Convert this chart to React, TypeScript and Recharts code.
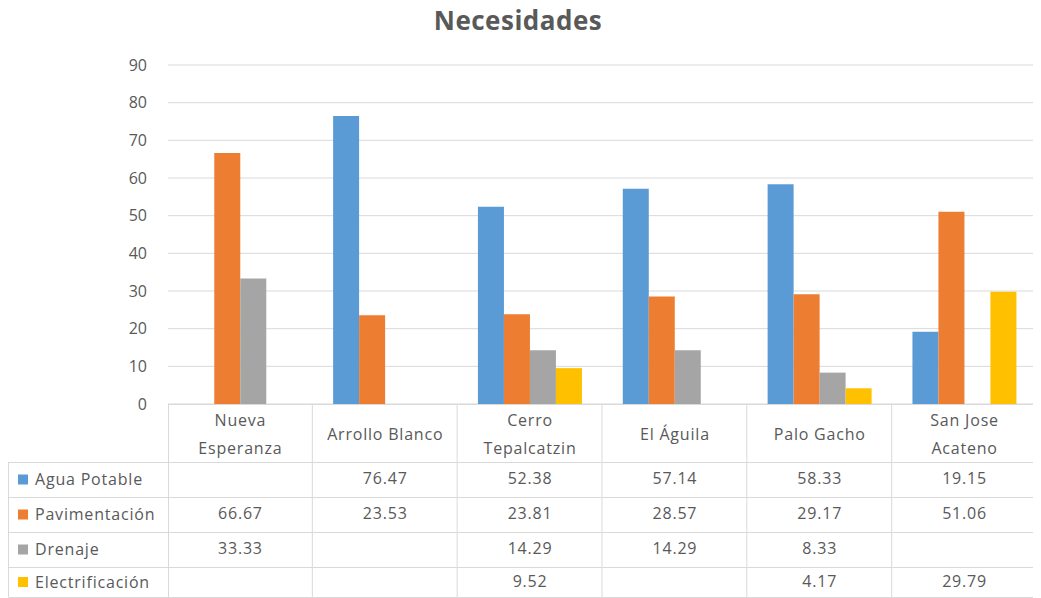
import React from "react";
import { BarChart, Bar, XAxis, YAxis, CartesianGrid } from "recharts";

const categories = [
  "Nueva Esperanza",
  "Arrollo Blanco",
  "Cerro Tepalcatzin",
  "El Águila",
  "Palo Gacho",
  "San Jose Acateno",
];
const headerLines = [
  ["Nueva", "Esperanza"],
  ["Arrollo Blanco"],
  ["Cerro", "Tepalcatzin"],
  ["El Águila"],
  ["Palo Gacho"],
  ["San Jose", "Acateno"],
];
const aguaPotable = [null, 76.47, 52.38, 57.14, 58.33, 19.15];
const pavimentacion = [66.67, 23.53, 23.81, 28.57, 29.17, 51.06];
const drenaje = [33.33, null, 14.29, 14.29, 8.33, null];
const electrificacion = [null, null, 9.52, null, 4.17, 29.79];
const seriesKeys = ["agua", "pav", "dren", "elec"];
const seriesNames = ["Agua Potable", "Pavimentación", "Drenaje", "Electrificación"];
const seriesValues = [aguaPotable, pavimentacion, drenaje, electrificacion];
const seriesColors = ["#5B9BD5", "#ED7D31", "#A5A5A5", "#FFC000"];
const yTicks = [0, 10, 20, 30, 40, 50, 60, 70, 80, 90];

const data = categories.map((c, i) => ({
  name: c,
  agua: aguaPotable[i],
  pav: pavimentacion[i],
  dren: drenaje[i],
  elec: electrificacion[i],
}));

const W = 1033;
const H = 590;
const M = { top: 57, right: 4, left: 0, bottom: 0 };
const Y_AXIS_W = 160;
const X_AXIS_H = 194;
const PLOT_W = W - M.left - M.right - Y_AXIS_W;
const CW = PLOT_W / categories.length;
const ROWS = [0, 58, 93, 128, 163, 193];
const LINE = "#D9D9D9";
const TEXT = "#595959";
const FONT = "'Open Sans', 'Noto Sans', sans-serif";
const FS = 16;
const LS = 0.8;

const fmt = (v: number | null) => (v == null ? "" : v.toFixed(2));

const TableTick = (props: any) => {
  const { x, y, index } = props;
  const left = x - CW / 2;
  const right = x + CW / 2;
  const lines = headerLines[index];
  const els: any[] = [];
  for (let r = 0; r < ROWS.length; r++) {
    els.push(<line key={"h" + r} x1={left} x2={right} y1={y + ROWS[r] + 0.5} y2={y + ROWS[r] + 0.5} stroke={LINE} />);
  }
  els.push(<line key="vr" x1={right - 0.5} x2={right - 0.5} y1={y} y2={y + ROWS[5]} stroke={LINE} />);
  if (index === 0) {
    els.push(<line key="vl" x1={left + 0.5} x2={left + 0.5} y1={y} y2={y + ROWS[5]} stroke={LINE} />);
    const lx = 0.5;
    els.push(<line key="lvl" x1={lx} x2={lx} y1={y + ROWS[1]} y2={y + ROWS[5]} stroke={LINE} />);
    for (let r = 1; r < ROWS.length; r++) {
      els.push(<line key={"lh" + r} x1={lx} x2={left} y1={y + ROWS[r] + 0.5} y2={y + ROWS[r] + 0.5} stroke={LINE} />);
    }
    for (let s = 0; s < seriesNames.length; s++) {
      const cy = y + (ROWS[s + 1] + ROWS[s + 2]) / 2;
      els.push(<rect key={"sq" + s} x={10} y={cy - 5} width={10} height={10} fill={seriesColors[s]} />);
      els.push(
        <text key={"ln" + s} x={27} y={cy} dy="0.35em" fill={TEXT} fontSize={FS} fontFamily={FONT} letterSpacing={LS}>
          {seriesNames[s]}
        </text>
      );
    }
  }
  const hc = y + ROWS[1] / 2 + 1;
  lines.forEach((t: string, k: number) => {
    const off = lines.length === 1 ? 0 : k === 0 ? -14 : 14;
    els.push(
      <text key={"hd" + k} x={x} y={hc + off} dy="0.35em" textAnchor="middle" fill={TEXT} fontSize={FS} fontFamily={FONT} letterSpacing={LS}>
        {t}
      </text>
    );
  });
  for (let s = 0; s < seriesValues.length; s++) {
    const cy = y + (ROWS[s + 1] + ROWS[s + 2]) / 2 - 1;
    els.push(
      <text key={"v" + s} x={x} y={cy} dy="0.35em" textAnchor="middle" fill={TEXT} fontSize={FS} fontFamily={FONT} letterSpacing={LS}>
        {fmt(seriesValues[s][index])}
      </text>
    );
  }
  return <g>{els}</g>;
};

export default function App() {
  return (
    <div style={{ position: "relative", width: W, height: H, background: "#fff" }}>
      <div
        style={{
          position: "absolute",
          left: 0,
          width: 1020,
          top: -4,
          textAlign: "center",
          fontFamily: FONT,
          fontWeight: 700,
          fontSize: 26,
          color: TEXT,
          lineHeight: "32px",
          letterSpacing: 0.5,
        }}
      >
        Necesidades
      </div>
      <BarChart width={W} height={H} data={data} margin={M} barCategoryGap="14%" barGap={0}>
        <CartesianGrid vertical={false} stroke={LINE} />
        <YAxis
          width={Y_AXIS_W}
          domain={[0, 90]}
          ticks={yTicks}
          axisLine={false}
          tickLine={false}
          tickSize={0}
          tickMargin={21}
          tick={{ fill: TEXT, fontSize: FS, fontFamily: FONT }}
        />
        <XAxis
          dataKey="name"
          height={X_AXIS_H}
          axisLine={false}
          tickLine={false}
          tickSize={0}
          tickMargin={0}
          interval={0}
          tick={<TableTick />}
        />
        {seriesKeys.map((k, i) => (
          <Bar key={k} dataKey={k} name={seriesNames[i]} fill={seriesColors[i]} isAnimationActive={false} />
        ))}
      </BarChart>
    </div>
  );
}
